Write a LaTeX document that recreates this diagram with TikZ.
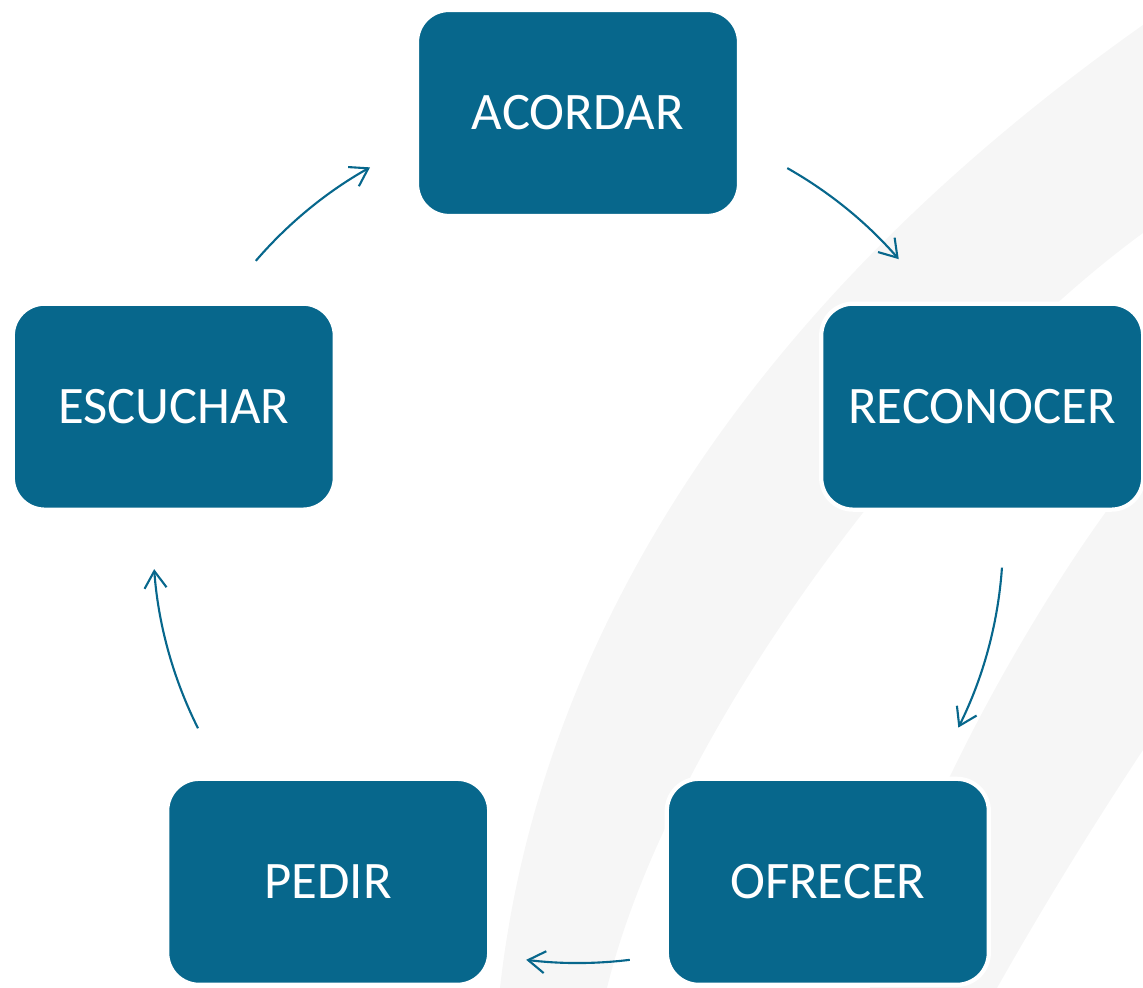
\documentclass[tikz,border=0pt]{standalone}
\usepackage{fontspec}
\setmainfont{Carlito}
\usetikzlibrary{arrows.meta}
\definecolor{boxblue}{HTML}{07678C}
\definecolor{bandgrey}{HTML}{F6F6F6}
\tikzset{
  cyclebox/.style={rectangle,rounded corners=0.32cm,fill=boxblue,draw=white,line width=1.2pt,
    minimum width=3.22cm,minimum height=2.06cm,text=white,font=\fontsize{15}{18}\selectfont},
  cyclearrow/.style={boxblue,line width=0.6pt,-{Straight Barb[length=1.7mm,width=2.2mm]}}
}
\begin{document}
\begin{tikzpicture}
\useasboundingbox (-5.78,-4.50) rectangle (5.65,5.38);
\begin{scope}
\clip (-5.78,-4.50) rectangle (5.65,5.38);
% background bands
\fill[bandgrey] (5.65,5.13) .. controls (0.8,1.7) and (-0.5,-2.0) .. (-0.78,-4.50)
  -- (0.29,-4.50) .. controls (0.9,-2.0) and (3.4,1.4) .. (5.65,3.05) -- cycle;
\fill[bandgrey] (5.65,0.75) .. controls (4.6,-0.55) and (3.3,-2.9) .. (2.92,-4.50)
  -- (4.19,-4.50) .. controls (4.7,-3.6) and (5.2,-2.8) .. (5.65,-2.12) -- cycle;
\end{scope}

\node[cyclebox] (acordar) at (90:4.25) {ACORDAR};
\node[cyclebox] (reconocer) at (18:4.25) {RECONOCER};
\node[cyclebox] (ofrecer) at (-54:4.25) {OFRECER};
\node[cyclebox] (pedir) at (-126:4.25) {PEDIR};
\node[cyclebox] (escuchar) at (162:4.25) {ESCUCHAR};

% arrows along the cycle
\coordinate (fromacordar) at (60.5:4.25);
\coordinate (fromreconocer) at (-4:4.25);
\coordinate (fromofrecer) at (-83:4.25);
\coordinate (frompedir) at (206.6:4.25);
\coordinate (fromescuchar) at (139.3:4.25);
\draw[cyclearrow] (fromacordar) arc[start angle=60.5,end angle=41,radius=4.25];
\draw[cyclearrow] (fromreconocer) arc[start angle=-4,end angle=-26.5,radius=4.25];
\draw[cyclearrow] (fromofrecer) arc[start angle=-83,end angle=-97,radius=4.25];
\draw[cyclearrow] (frompedir) arc[start angle=206.6,end angle=184.2,radius=4.25];
\draw[cyclearrow] (fromescuchar) arc[start angle=139.3,end angle=119.3,radius=4.25];
\end{tikzpicture}
\end{document}
